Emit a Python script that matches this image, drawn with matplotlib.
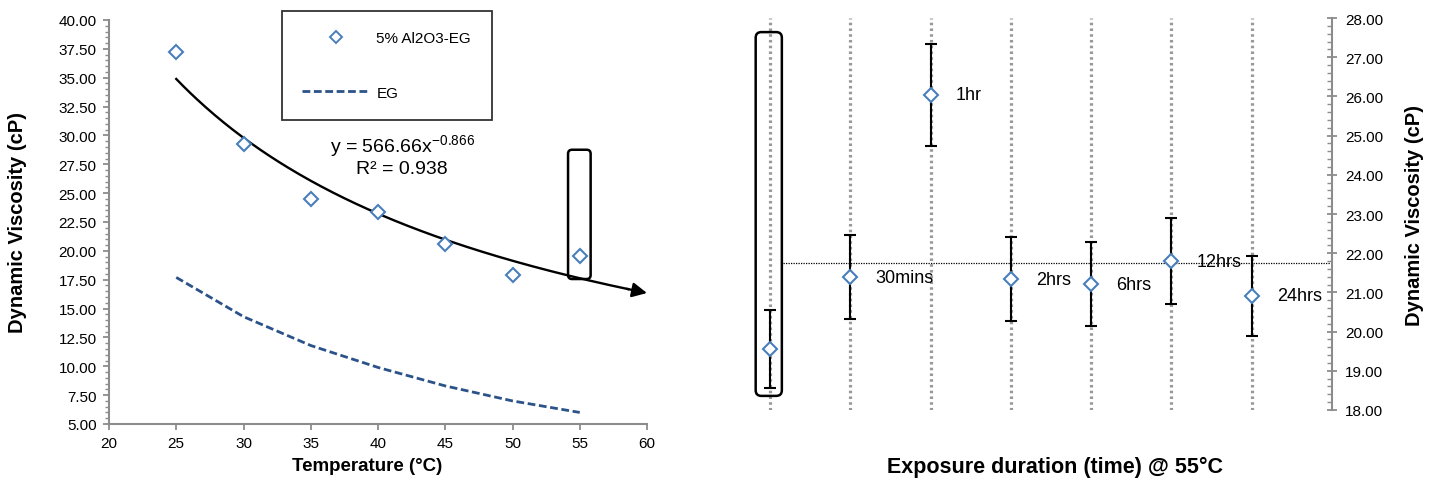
import numpy as np
import matplotlib
matplotlib.use("Agg")
import matplotlib.pyplot as plt
from matplotlib.patches import FancyBboxPatch
from matplotlib.lines import Line2D
from matplotlib.ticker import MultipleLocator, FormatStrFormatter

plt.rcParams['font.family'] = ['Liberation Sans', 'DejaVu Sans']
plt.rcParams['mathtext.default'] = 'regular'

# ---------------- data ----------------
temperature = [25, 30, 35, 40, 45, 50, 55]
visc_al2o3 = [37.2, 29.3, 24.5, 23.4, 20.6, 17.9, 19.55]
visc_eg = [17.7, 14.3, 11.8, 9.9, 8.3, 7.0, 6.0]
fit_coef = 566.66
fit_exp = -0.866
fit_r2 = 0.938

durations = ['', '30mins', '1hr', '2hrs', '6hrs', '12hrs', '24hrs']
visc_time = [19.55, 21.39, 26.04, 21.34, 21.21, 21.80, 20.91]
visc_time_err = [1.0, 1.07, 1.3, 1.07, 1.07, 1.1, 1.03]
reference_level = 21.75

# ---------------- styling ----------------
MARK = '#4A7EBB'
EGC = '#2B538A'
SPINE = '#8C8C8C'
W, H = 1439, 489

fig = plt.figure(figsize=(W / 100, H / 100), dpi=100)

def px_axes(l, r, t, b):
    return fig.add_axes([l / W, (H - b) / H, (r - l) / W, (b - t) / H])

# ================= left chart =================
ax = px_axes(109, 647, 21, 425)
ax.set_xlim(20, 60)
ax.set_ylim(5, 40)
for s in ['top', 'right']:
    ax.spines[s].set_visible(False)
for s in ['left', 'bottom']:
    ax.spines[s].set_color(SPINE)
    ax.spines[s].set_linewidth(1.5)
ax.xaxis.set_major_locator(MultipleLocator(5))
ax.yaxis.set_major_locator(MultipleLocator(2.5))
ax.yaxis.set_minor_locator(MultipleLocator(0.5))
ax.yaxis.set_major_formatter(FormatStrFormatter('%.2f'))
ax.tick_params(axis='both', which='major', direction='out', length=4, width=1.3,
               color=SPINE, labelsize=11, pad=5)
ax.tick_params(axis='y', which='minor', direction='out', length=3, width=1.0, color=SPINE)

# EG line
ax.plot(temperature, visc_eg, color=EGC, lw=2.0, linestyle=(0, (2.8, 1.3)),
        label='EG', zorder=2)
# power trendline with arrow
xf = np.linspace(25, 58.6, 200)
ax.plot(xf, fit_coef * xf ** fit_exp, color='black', lw=1.7, zorder=3)
ax.annotate('', xy=(60, fit_coef * 60 ** fit_exp),
            xytext=(58.5, fit_coef * 58.5 ** fit_exp),
            arrowprops=dict(arrowstyle='-|>', color='black', lw=1.7,
                            mutation_scale=22, shrinkA=0, shrinkB=0), zorder=3)
# data
ax.plot(temperature, visc_al2o3, linestyle='none', marker='D', markersize=7.5,
        markerfacecolor='white', markeredgecolor=MARK, markeredgewidth=1.5,
        label='5% Al2O3-EG', zorder=4)

# highlight box around 55 °C point
bx = FancyBboxPatch((54.13, 17.56), 55.81 - 54.13, 28.76 - 17.56,
                    boxstyle='round,pad=0,rounding_size=0.3',
                    mutation_aspect=1.165, fill=False, edgecolor='black',
                    lw=1.8, zorder=5)
ax.add_patch(bx)

ax.text((403 - 109) / 538, (425 - 146) / 404,
        'y = 566.66x$^{-0.866}$', transform=ax.transAxes,
        ha='center', va='center', fontsize=14)
ax.text((402 - 109) / 538, (425 - 170) / 404,
        'R² = 0.938', transform=ax.transAxes,
        ha='center', va='center', fontsize=14)

h_m = Line2D([], [], linestyle='none', marker='D', markersize=6,
             markerfacecolor='white', markeredgecolor=MARK, markeredgewidth=1.4)
h_l = Line2D([], [], color=EGC, lw=2.0, linestyle=(0, (2.8, 1.3)))
leg = ax.legend([h_m, h_l], ['5% Al2O3-EG', 'EG'], loc='upper left',
                bbox_to_anchor=((281.7 - 109) / 538, (425 - 11.7) / 404),
                borderaxespad=0, fontsize=11, frameon=True, fancybox=False,
                edgecolor='black', borderpad=1.35, handlelength=4.4,
                handletextpad=0.45, labelspacing=2.65)
leg.get_frame().set_linewidth(1.3)

ax.set_xlabel('Temperature (°C)', fontsize=13.5, fontweight='bold')
ax.xaxis.set_label_coords((367 - 109) / 538, -(467 - 425) / 404)
ax.xaxis.label.set_verticalalignment('center')
ax.set_ylabel('Dynamic Viscosity (cP)', fontsize=14.5, fontweight='bold')
ax.yaxis.set_label_coords((18 - 109) / 538, 0.5)
ax.yaxis.label.set_verticalalignment('center')

# ================= right chart =================
ax2 = px_axes(730, 1332, 19, 411)
xpos = np.arange(len(durations))
ax2.set_xlim(-0.5, 7.0)
ax2.set_ylim(18, 28)
for s in ['top', 'left', 'bottom']:
    ax2.spines[s].set_visible(False)
ax2.spines['right'].set_color(SPINE)
ax2.spines['right'].set_linewidth(1.5)
ax2.yaxis.tick_right()
ax2.yaxis.set_label_position('right')
ax2.set_xticks([])
ax2.yaxis.set_major_locator(MultipleLocator(1))
ax2.yaxis.set_minor_locator(MultipleLocator(0.2))
ax2.yaxis.set_major_formatter(FormatStrFormatter('%.2f'))
ax2.tick_params(axis='y', which='major', direction='inout', length=7, width=1.3,
                color=SPINE, labelsize=11, pad=6)
ax2.tick_params(axis='y', which='minor', direction='in', length=3.5, width=1.0,
                color=SPINE)

for xp in xpos:
    ax2.axvline(xp, color='#999999', lw=2.3, linestyle=(0, (0.8, 1.0)), zorder=1)

ax2.plot([0.16, 7.0], [reference_level, reference_level], color='black',
         lw=0.9, linestyle=(0, (1, 1)), zorder=2)

ax2.errorbar(xpos, visc_time, yerr=visc_time_err, fmt='none', ecolor='black',
             elinewidth=1.5, capsize=4.5, capthick=1.5, zorder=3)
ax2.plot(xpos, visc_time, linestyle='none', marker='D', markersize=7.5,
         markerfacecolor='white', markeredgecolor=MARK, markeredgewidth=1.5,
         zorder=4)
for xp, v, lab in zip(xpos, visc_time, durations):
    if lab:
        ax2.annotate(lab, (xp, v), xytext=(18, 0), textcoords='offset points',
                     ha='left', va='center', fontsize=13, zorder=5)

bx2 = FancyBboxPatch((-0.18, 18.36), 0.146 + 0.18, 27.64 - 18.36,
                     boxstyle='round,pad=0,rounding_size=0.07',
                     mutation_aspect=2.05, fill=False, edgecolor='black',
                     lw=1.8, zorder=5)
ax2.add_patch(bx2)

ax2.set_xlabel('Exposure duration (time) @ 55°C', fontsize=15.5, fontweight='bold')
ax2.xaxis.set_label_coords((1055 - 730) / 602, -(467 - 411) / 392)
ax2.xaxis.label.set_verticalalignment('center')
ax2.set_ylabel('Dynamic Viscosity (cP)', fontsize=14.5, fontweight='bold')
ax2.yaxis.set_label_coords((1415 - 730) / 602, 0.5)
ax2.yaxis.label.set_verticalalignment('center')
ax2.yaxis.label.set_rotation(90)

fig.savefig('out.png', dpi=100)
